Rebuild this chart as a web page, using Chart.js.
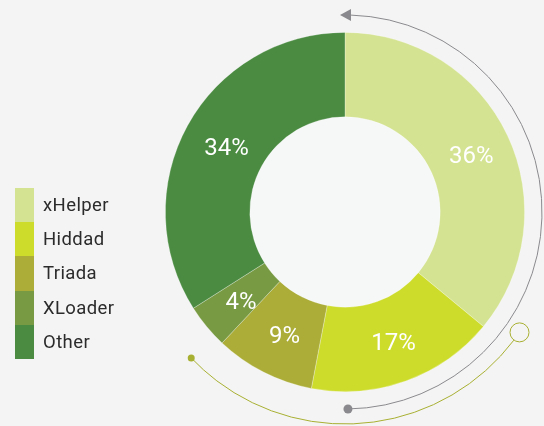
<!DOCTYPE html>
<html>
<head>
<meta charset="utf-8">
<script src="https://cdn.jsdelivr.net/npm/chart.js@4"></script>
<style>
  html, body { margin: 0; padding: 0; background: #f4f4f4; }
  #wrap { position: relative; width: 544px; height: 426px; }
  #legend { position: absolute; left: 15px; top: 188px; margin: 0; padding: 0; list-style: none;
            font-family: Roboto, "DejaVu Sans", sans-serif; font-size: 18.5px; letter-spacing: 0.4px; color: #2b2b2b; }
  #legend li { height: 34.2px; display: flex; align-items: center; }
  #legend span { display: inline-block; width: 19px; height: 100%; margin-right: 9px; }
</style>
</head>
<body>
<div id="wrap">
  <canvas id="donut" width="544" height="426"></canvas>
  <ul id="legend"></ul>
</div>
<script>
const labels = ["xHelper", "Hiddad", "Triada", "XLoader", "Other"];
const shares = [36, 17, 9, 4, 34];
const colors = ["#d3e391", "#cddc2b", "#abad38", "#789a42", "#4a8b41"];

// legend blocks on the left
const legend = document.getElementById("legend");
labels.forEach(function (name, i) {
    const li = document.createElement("li");
    li.innerHTML = '<span style="background:' + colors[i] + '"></span>' + name;
    legend.appendChild(li);
});

// light hole in the middle
const holePlugin = {
    id: "hole",
    beforeDatasetsDraw(chart) {
        const arc = chart.getDatasetMeta(0).data[0];
        const ctx = chart.ctx;
        ctx.save();
        ctx.fillStyle = "#f6f8f8";
        ctx.beginPath();
        ctx.arc(arc.x, arc.y, arc.innerRadius, 0, Math.PI * 2);
        ctx.fill();
        ctx.restore();
    },
};

// percent labels + the two decorative arcs
const decoPlugin = {
    id: "deco",
    afterDraw(chart) {
        const meta = chart.getDatasetMeta(0);
        const ctx = chart.ctx;
        const cx = meta.data[0].x, cy = meta.data[0].y;

        ctx.save();
        ctx.fillStyle = "#ffffff";
        ctx.font = "24px Roboto, 'DejaVu Sans', sans-serif";
        ctx.textAlign = "center";
        ctx.textBaseline = "middle";
        meta.data.forEach(function (el, i) {
            const p = el.tooltipPosition();
            ctx.fillText(shares[i] + "%", p.x + 2, p.y + 3);
        });

        // gray arrow arc (top -> bottom, right side)
        const rg = 197;
        ctx.strokeStyle = "#8a8a8e";
        ctx.fillStyle = "#8a8a8e";
        ctx.lineWidth = 1;
        ctx.beginPath();
        ctx.arc(cx, cy, rg, -Math.PI / 2 + 0.03, Math.PI / 2 - 0.015);
        ctx.stroke();
        ctx.beginPath();
        ctx.moveTo(cx - 5, cy - rg);
        ctx.lineTo(cx + 6, cy - rg - 6);
        ctx.lineTo(cx + 6, cy - rg + 6);
        ctx.closePath();
        ctx.fill();
        const ge = Math.PI / 2 - 0.015;
        ctx.beginPath();
        ctx.arc(cx + rg * Math.cos(ge), cy + rg * Math.sin(ge), 4.5, 0, Math.PI * 2);
        ctx.fill();

        // olive arc (bottom)
        const ro = 212;
        const a0 = 34.6 * Math.PI / 180, a1 = 136.5 * Math.PI / 180;
        ctx.strokeStyle = "#a8b032";
        ctx.fillStyle = "#a8b032";
        ctx.beginPath();
        ctx.arc(cx, cy, ro, a0 + 0.045, a1);
        ctx.stroke();
        ctx.beginPath();
        ctx.arc(cx + ro * Math.cos(a1), cy + ro * Math.sin(a1), 3.5, 0, Math.PI * 2);
        ctx.fill();
        ctx.beginPath();
        ctx.arc(cx + ro * Math.cos(a0), cy + ro * Math.sin(a0), 9.5, 0, Math.PI * 2);
        ctx.stroke();
        ctx.restore();
    },
};

new Chart(document.getElementById("donut"), {
    type: "doughnut",
    data: {
        labels: labels,
        datasets: [{
            data: shares,
            backgroundColor: colors,
            borderColor: "rgba(255,255,255,0.35)",
            borderWidth: 0.8,
        }],
    },
    options: {
        responsive: false,
        animation: false,
        cutout: "53%",
        layout: { padding: { top: 32, bottom: 34, left: 165, right: 19 } },
        plugins: {
            legend: { display: false },
            tooltip: { enabled: false },
        },
    },
    plugins: [holePlugin, decoPlugin],
});
</script>
</body>
</html>
